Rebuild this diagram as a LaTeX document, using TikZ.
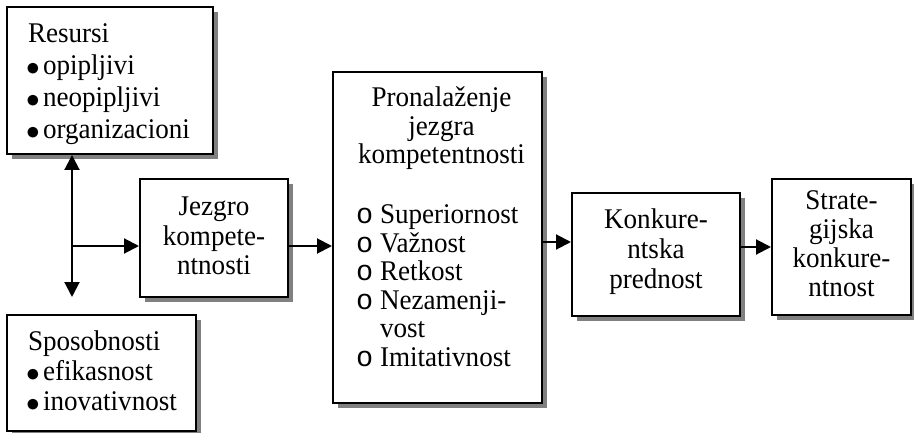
\documentclass[tikz,border=0pt]{standalone}
\usepackage{fontspec}
\usepackage{graphicx}
\setmainfont{Liberation Serif}[FakeStretch=0.95]
\newfontfamily\monof{Liberation Mono}
\usetikzlibrary{arrows.meta,shadows}
\newcommand{\bul}{\makebox[15pt][l]{\makebox[10pt]{\raisebox{-1pt}{\scalebox{1.1}{$\bullet$}}}}}
\newcommand{\cir}{\makebox[24pt][l]{\monof o}}
\newcommand{\topst}[1]{\rule{0pt}{#1}}
\newcommand{\botst}[1]{\rule[-#1]{0pt}{#1}}
\newcommand{\hd}[1]{\makebox[189pt]{\hspace*{8pt}#1}}
\begin{document}
\begin{tikzpicture}[x=1pt,y=-1pt,
  box/.style={draw=black, line width=2pt, fill=white, inner sep=0pt,
    drop shadow={shadow xshift=5pt, shadow yshift=-5pt, fill=black!50, opacity=1},
    font=\fontsize{28.5}{30}\selectfont},
  arr/.style={line width=2pt, -{Triangle[length=15pt,width=15pt]}},
  darr/.style={line width=2pt, {Triangle[length=15pt,width=15pt]}-{Triangle[length=15pt,width=15pt]}}]
\useasboundingbox (0,0) rectangle (914,433);
\node[box, minimum width=206pt, minimum height=147pt, text width=164pt, align=left,
  font=\fontsize{28.5}{32}\selectfont] (res) at (110,80.5)
  {\topst{31pt}Resursi\\ \bul opipljivi\\ \bul neopipljivi\\ \bul organizacioni\botst{10pt}};
\node[box, minimum width=189pt, minimum height=116pt, text width=147pt, align=left] (spo) at (101.5,373)
  {\topst{24pt}Sposobnosti\\ \bul efikasnost\\ \bul inovativnost\botst{10pt}};
\node[box, minimum width=148pt, minimum height=118pt, text width=148pt, align=center] (jez) at (214,238)
  {\topst{24pt}Jezgro\\ kompete-\\ ntnosti\botst{10pt}};
\node[box, minimum width=209pt, minimum height=331pt, text width=189pt, align=left,
  font=\fontsize{28.5}{28.5}\selectfont] (pro) at (437.5,237.5)
  {\topst{27pt}\hd{Pronalaženje}\\
   \hd{jezgra}\\
   \hd{kompetentnosti}\\[31.5pt]
   \hspace*{13pt}\cir Superiornost\\
   \hspace*{13pt}\cir Važnost\\
   \hspace*{13pt}\cir Retkost\\
   \hspace*{13pt}\cir Nezamenji-\\
   \hspace*{37pt}vost\\
   \hspace*{13pt}\cir Imitativnost\botst{28.5pt}};
\node[box, minimum width=168pt, minimum height=123pt, text width=168pt, align=center] (kon) at (656,254.5)
  {\topst{24pt}Konkure-\\ ntska\\ prednost\botst{15pt}};
\node[box, minimum width=139pt, minimum height=136pt, text width=139pt, align=center,
  font=\fontsize{28.5}{29}\selectfont] (str) at (841.5,247)
  {\topst{28pt}Strate-\\ gijska\\ konkure-\\ ntnost\botst{15pt}};
\coordinate (vb) at (72,297);
\coordinate (vh) at (72,246);
\coordinate (a1) at (0,246);
\coordinate (a2) at (0,242);
\coordinate (a3) at (0,247);
\draw[darr] (vb |- res.south) -- (vb);
\draw[arr] (vh) -- (vh -| jez.west);
\draw[arr] (a1 -| jez.east) -- (a1 -| pro.west);
\draw[arr] (a2 -| pro.east) -- (a2 -| kon.west);
\draw[arr] (a3 -| kon.east) -- (a3 -| str.west);
\end{tikzpicture}
\end{document}
